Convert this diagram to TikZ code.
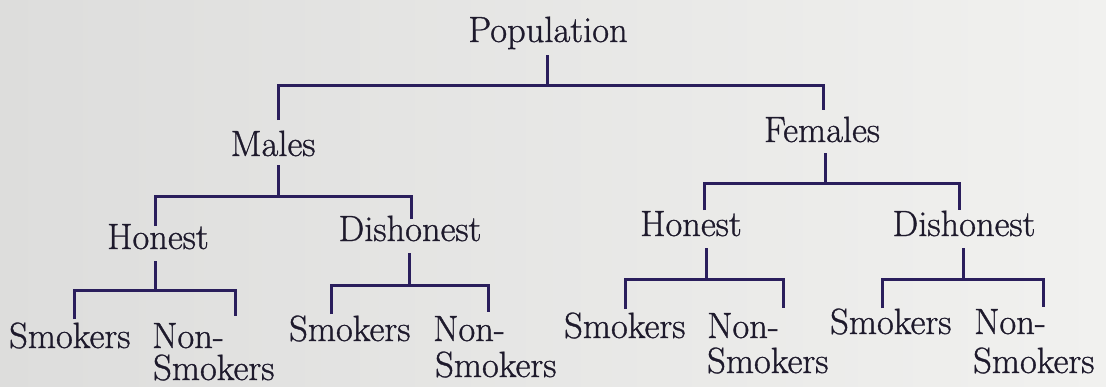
\documentclass[tikz,border=0pt]{standalone}
\usepackage{fontspec}
\newfontfamily\treeserif{Latin Modern Roman}[FakeBold=0.9]
\definecolor{paperL}{RGB}{221,221,220}
\definecolor{paperR}{RGB}{241,241,239}
\definecolor{inkline}{RGB}{42,30,92}
\definecolor{inktext}{RGB}{30,26,44}
\begin{document}
\begin{tikzpicture}[x=1pt,y=-1pt,
  conn/.style={draw=inkline,line width=3pt,line cap=butt,line join=miter},
  lbl/.style={inner sep=0pt,text=inktext,font=\treeserif\fontsize{36.5}{42}\selectfont}]
\useasboundingbox (0,0) rectangle (1106,386);
\shade[left color=paperL,right color=paperR] (0,0) rectangle (1106,386);

% text nodes
\node[lbl,anchor=base] (pop) at (548,42) {Population};
\node[lbl,anchor=base] (males) at (273,156) {Males};
\node[lbl,anchor=base] (females) at (822,142) {Females};
\node[lbl,anchor=base] (mh) at (158,249) {Honest};
\node[lbl,anchor=base] (md) at (410,241) {Dishonest};
\node[lbl,anchor=base] (fh) at (691,236) {Honest};
\node[lbl,anchor=base] (fd) at (964,236) {Dishonest};

\node[lbl,anchor=base west] (mhs) at (9,348) {Smokers};
\node[lbl,anchor=base west] (mhn) at (152,348) {Non-};
\node[lbl,anchor=base west] (mhn2) at (153,380) {Smokers};
\node[lbl,anchor=base west] (mds) at (289,341) {Smokers};
\node[lbl,anchor=base west] (mdn) at (433,341) {Non-};
\node[lbl,anchor=base west] (mdn2) at (435,377) {Smokers};
\node[lbl,anchor=base west] (fhs) at (564,338) {Smokers};
\node[lbl,anchor=base west] (fhn) at (707,338) {Non-};
\node[lbl,anchor=base west] (fhn2) at (707,373) {Smokers};
\node[lbl,anchor=base west] (fds) at (830,334) {Smokers};
\node[lbl,anchor=base west] (fdn) at (974,334) {Non-};
\node[lbl,anchor=base west] (fdn2) at (973,373) {Smokers};

% connector end points
\coordinate (popT) at (547,55);  \coordinate (popL) at (278,85);  \coordinate (popR) at (823,85);
\coordinate (malesE) at (278,120); \coordinate (femalesE) at (823,110);

\coordinate (malT) at (278,165); \coordinate (malL) at (155,196); \coordinate (malR) at (411,196);
\coordinate (mhE) at (155,226); \coordinate (mdE) at (411,219);

\coordinate (femT) at (825,153); \coordinate (femL) at (704,183); \coordinate (femR) at (959,183);
\coordinate (fhE) at (704,210); \coordinate (fdE) at (959,210);

\coordinate (mhT) at (155,261); \coordinate (mhL) at (74,290); \coordinate (mhR) at (235,290);
\coordinate (mhsE) at (74,319); \coordinate (mhnE) at (235,316);

\coordinate (mdT) at (409,253); \coordinate (mdL) at (331,285); \coordinate (mdR) at (488,285);
\coordinate (mdsE) at (331,314); \coordinate (mdnE) at (488,312);

\coordinate (fhT) at (706,248); \coordinate (fhL) at (625,279); \coordinate (fhR) at (783,279);
\coordinate (fhsE) at (625,309); \coordinate (fhnE) at (783,308);

\coordinate (fdT) at (963,248); \coordinate (fdL) at (882,279); \coordinate (fdR) at (1043,279);
\coordinate (fdsE) at (882,308); \coordinate (fdnE) at (1043,307);

% connectors
\foreach \p/\a/\b in {pop/males/females, mal/mh/md, fem/fh/fd, mh/mhs/mhn, md/mds/mdn, fh/fhs/fhn, fd/fds/fdn}{
  \draw[conn] (\p T) -- (\p T |- \p L);
  \draw[conn] (\a E) -- (\p L) -- (\p R) -- (\b E);
}
\end{tikzpicture}
\end{document}
